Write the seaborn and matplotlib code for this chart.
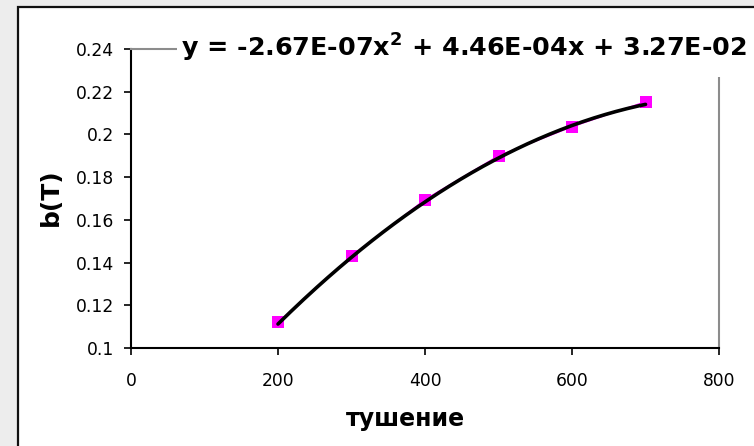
import numpy as np
import pandas as pd
import matplotlib
matplotlib.use("Agg")
import matplotlib.pyplot as plt
from matplotlib.patches import Rectangle
from matplotlib.ticker import FuncFormatter
import seaborn as sns

# Measured b(T) values versus quench temperature
quench = [200, 300, 400, 500, 600, 700]
b_T = [0.112, 0.143, 0.1695, 0.190, 0.2036, 0.2153]

# Second-order polynomial trend coefficients (highest power first)
trend_coef = [-2.67e-07, 4.46e-04, 3.27e-02]

x_ticks = [0, 200, 400, 600, 800]
y_ticks = [0.1, 0.12, 0.14, 0.16, 0.18, 0.2, 0.22, 0.24]

sns.set_style("white")
plt.rcParams["font.family"] = ["DejaVu Sans"]
plt.rcParams["text.color"] = "black"
plt.rcParams["axes.labelcolor"] = "black"

W, H = 754, 446
fig = plt.figure(figsize=(W / 100, H / 100), dpi=100)
fig.patch.set_facecolor("#ededed")

# White chart area with a dark frame
fig.add_artist(Rectangle((18 / W, -0.2), 1.2, 1 - 7 / H + 0.2,
                         transform=fig.transFigure, facecolor="white",
                         edgecolor="#111111", linewidth=1.6, zorder=0))

ax = fig.add_axes([131 / W, 1 - 348 / H, (719 - 131) / W, (348 - 49) / H])
ax.set_facecolor("white")
ax.patch.set_alpha(0)

df = pd.DataFrame({"quench": quench, "b": b_T})
sns.lineplot(data=df, x="quench", y="b", ax=ax, color="#ff00ff",
             linewidth=1.0, marker="s", markersize=8.5,
             markeredgewidth=0, markerfacecolor="#ff00ff", zorder=3)

xs = np.linspace(quench[0], quench[-1], 200)
trend = pd.DataFrame({"quench": xs, "b": np.polyval(trend_coef, xs)})
sns.lineplot(data=trend, x="quench", y="b", ax=ax, color="black",
             linewidth=2.6, zorder=4)

ax.set_xlim(x_ticks[0], x_ticks[-1])
ax.set_ylim(y_ticks[0], y_ticks[-1])
ax.set_xticks(x_ticks)
ax.set_yticks(y_ticks)
ax.yaxis.set_major_formatter(FuncFormatter(lambda v, p: f"{v:g}"))
ax.tick_params(axis="both", direction="out", length=5, width=1.2,
               color="black", labelsize=12.3, labelcolor="black",
               left=True, bottom=True)
ax.tick_params(axis="y", pad=7)
ax.tick_params(axis="x", pad=12)

for side in ("left", "bottom"):
    ax.spines[side].set_color("black")
    ax.spines[side].set_linewidth(1.5)
for side in ("top", "right"):
    ax.spines[side].set_color("#8c8c8c")
    ax.spines[side].set_linewidth(1.5)
    ax.spines[side].set_visible(True)

ax.set_xlabel("тушение", fontsize=17, fontweight="bold")
ax.set_ylabel("b(T)", fontsize=18, fontweight="bold")
ax.xaxis.set_label_coords(0.466, -0.197)
ax.yaxis.set_label_coords(-0.116, 0.505)

# Trend-line equation on a white label box
fig.add_artist(Rectangle((177 / W, 1 - 77 / H), (754 - 177) / W, 48 / H,
                         transform=fig.transFigure, facecolor="white",
                         edgecolor="none", zorder=5))
eq = (r"y = -2.67E-07x$^{\mathbf{2}}$ + 4.46E-04x + 3.27E-02")
fig.text(181 / W, 1 - 57 / H, eq, fontsize=18.3, fontweight="bold",
         ha="left", va="baseline", color="black", zorder=6)

fig.savefig("out.png", dpi=100, facecolor=fig.get_facecolor())
